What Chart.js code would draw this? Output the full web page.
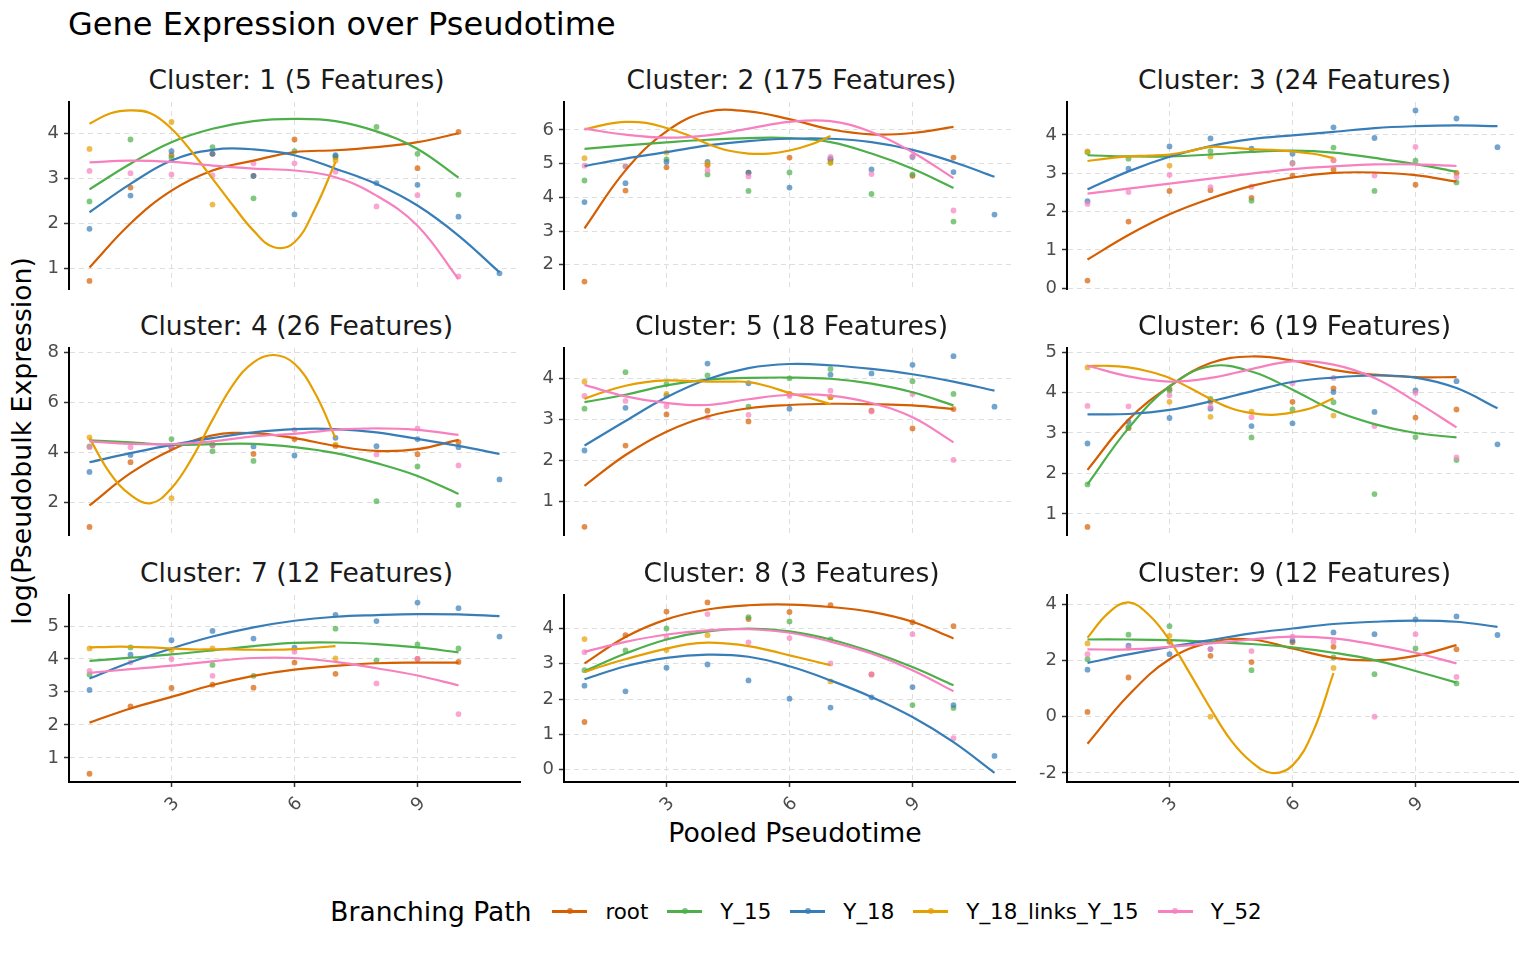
<!DOCTYPE html>
<html>
<head>
<meta charset="utf-8">
<title>Gene Expression over Pseudotime</title>
<script src="https://cdn.jsdelivr.net/npm/chart.js@4.4.1/dist/chart.umd.min.js"></script>
<style>
  body { margin: 0; background: #ffffff; font-family: "DejaVu Sans", sans-serif; }
  #page { position: relative; width: 1536px; height: 960px; overflow: hidden; background: #ffffff; }
  #page canvas { position: absolute; }
  .txt { position: absolute; line-height: 1; white-space: nowrap; }
  .mid { transform: translate(-50%, -50%); }
  #legend { position: absolute; left: 28px; width: 1536px; top: 911px; height: 30px; margin-top: -15px;
            display: flex; justify-content: center; align-items: center; }
  .ltitle { font-size: 26.5px; margin-right: 21px; color: #000; }
  .key { position: relative; width: 35px; height: 20px; margin-right: 18px; }
  .key .line { position: absolute; left: 0; right: 0; top: 9px; height: 2.6px; }
  .key .dot { position: absolute; left: 14.5px; top: 7.3px; width: 6px; height: 6px; border-radius: 50%; }
  .lab { font-size: 21.4px; margin-right: 19px; color: #000; }
  .lab:last-child { margin-right: 0; }
</style>
</head>
<body>
<div id="page">
  <div class="txt" style="left:68px; top:8px; font-size:32px; color:#000;">Gene Expression over Pseudotime</div>
  <div class="txt" style="left:22px; top:441px; font-size:26.7px; color:#000; transform: translate(-50%, -50%) rotate(-90deg);">log(Pseudobulk Expression)</div>
  <div class="txt mid" style="left:795px; top:833px; font-size:26.7px; color:#000;">Pooled Pseudotime</div>
  <div id="legend"><span class="ltitle">Branching Path</span></div>
</div>
<script>
// facets and groups
var clusterNames = ['Cluster: 1 (5 Features)', 'Cluster: 2 (175 Features)', 'Cluster: 3 (24 Features)',
                    'Cluster: 4 (26 Features)', 'Cluster: 5 (18 Features)', 'Cluster: 6 (19 Features)',
                    'Cluster: 7 (12 Features)', 'Cluster: 8 (3 Features)', 'Cluster: 9 (12 Features)'];
var paths = ['root', 'Y_15', 'Y_18', 'Y_18_links_Y_15', 'Y_52'];
var pathColors = ['#D55E00', '#4DAF4A', '#377EB8', '#E69F00', '#F781BF'];

// axes
var xTicks = [3, 6, 9];
var yTicks = [[1, 2, 3, 4], [2, 3, 4, 5, 6], [0, 1, 2, 3, 4],
              [2, 4, 6, 8], [1, 2, 3, 4], [1, 2, 3, 4, 5],
              [1, 2, 3, 4, 5], [0, 1, 2, 3, 4], [-2, 0, 2, 4]];
var yMin = [0.54, 1.28, -0.02, 0.69, 0.19, 0.48, 0.27, -0.35, -2.32];
var yMax = [4.705, 6.83, 4.86, 8.16, 4.75, 5.1, 5.94, 4.95, 4.32];

// pooled pseudotime positions
var pointX = [1, 2, 3, 4, 5, 6, 7, 8, 9, 10, 11];
var fitX = [1, 2, 3, 4, 5, 6, 7, 8, 9, 10, 11];
var fitXLinks = [1, 1.5, 2, 2.5, 3, 3.5, 4, 4.5, 5, 5.5, 6, 6.5, 7];

// pseudobulk points, rows in order of paths
var points1 = [[0.72, 2.80, 3.52, 3.55, 3.06, 3.87, 3.47, null, 3.23, 4.04],
               [2.49, 3.87, 3.46, 3.70, 2.56, 3.61, 3.50, 4.15, 3.55, 2.64],
               [1.88, 2.62, 3.61, 3.55, 3.06, 2.20, 3.52, 2.90, 2.86, 2.15, 0.89],
               [3.66, null, 4.26, 2.42, null, null, 3.40],
               [3.17, 3.12, 3.09, 3.07, 3.34, 3.34, 3.15, 2.38, 2.63, 0.82]];
var points2 = [[1.50, 4.20, 4.89, 4.95, 4.73, 5.18, 5.12, null, 4.64, 5.18],
               [4.50, 4.92, 5.13, 4.68, 4.19, 4.74, 5.05, 4.10, 4.68, 3.28],
               [3.86, 4.42, 5.05, 5.05, 4.73, 4.29, 5.15, 4.83, 5.20, 4.75, 3.49],
               [5.16, null, 5.33, 5.00, null, null, 5.02],
               [4.94, 4.92, null, 4.80, 4.62, null, 5.20, 4.69, 5.22, 3.61]];
var points3 = [[0.20, 1.74, 2.54, 2.56, 2.36, 2.94, 3.10, null, 2.70, 3.01],
               [3.55, 3.38, null, 3.58, 2.28, 3.27, 3.67, 2.54, 3.33, 2.76],
               [2.27, 3.12, 3.70, 3.91, 3.64, 3.51, 4.20, 3.92, 4.64, 4.43, 3.68],
               [3.57, null, 3.20, 3.44, null, null, 3.34],
               [2.20, 2.51, 2.96, 2.64, 2.65, 3.25, 3.34, 2.94, 3.69, 2.90]];
var points4 = [[1.01, 3.60, 4.20, 4.29, 3.93, 4.52, 4.25, null, 3.92, 4.40],
               [4.23, null, 4.52, 4.04, 3.65, null, null, 2.04, 3.43, 1.89],
               [3.21, 3.89, 4.20, 4.29, 4.23, 3.87, 4.57, 4.24, 4.52, 4.20, 2.91],
               [4.59, null, 2.16, null, null, null, 4.30],
               [4.20, 4.20, 4.20, 4.29, null, 4.89, null, 3.91, 4.95, 3.47]];
var points5 = [[0.39, 2.37, 3.13, 3.22, 2.96, 3.63, 3.55, 3.22, 2.79, 3.26],
               [3.27, 4.16, 3.87, 4.08, 3.32, 4.01, 4.24, null, 3.94, 3.63],
               [2.25, 3.29, 3.59, 4.37, 3.89, 3.27, 4.10, 4.13, 4.34, 4.55, 3.32],
               [3.93, null, 3.63, null, null, null, 3.55],
               [3.58, 3.46, 3.33, 3.06, 3.12, 3.58, 3.71, 3.20, 3.63, 2.02]];
var points6 = [[0.68, 3.12, 4.09, 3.78, null, 3.77, 4.10, null, 3.38, 3.58],
               [1.73, 3.15, 4.05, 3.84, 2.89, 3.58, 3.76, 1.49, 2.90, 2.33],
               [2.74, 3.28, 3.37, 3.60, 3.17, 3.24, 4.01, 3.52, 4.05, 4.28, 2.72],
               [4.62, null, 3.77, 3.40, 3.53, null, 3.43],
               [3.67, 3.66, 3.93, 3.65, 3.39, 4.23, 4.36, 3.17, 3.99, 2.40]];
var points7 = [[0.52, 2.56, 3.12, 3.22, 3.13, 3.89, 3.55, null, 4.00, 3.91],
               [3.53, 4.35, null, 3.82, 3.49, null, 4.92, 3.96, 4.44, 4.32],
               [3.06, 4.13, 4.57, 4.85, 4.62, 4.34, 5.34, 5.15, 5.71, 5.54, 4.68],
               [4.32, null, 4.27, 4.32, null, null, 4.02],
               [3.64, 3.90, 4.00, 3.49, null, 4.22, null, 3.26, 4.00, 2.33]];
var points8 = [[1.35, 3.81, 4.48, 4.74, 4.27, 4.47, 4.66, 2.70, 4.18, 4.07],
               [2.82, 3.38, 4.00, null, 4.32, 4.20, 3.69, null, 1.83, 1.75],
               [2.38, 2.22, 2.89, 2.98, 2.53, 2.01, 1.76, 2.05, 2.34, 1.83, 0.39],
               [3.70, null, 3.39, 3.81, null, null, 2.50],
               [3.33, null, 3.74, 4.41, 3.61, 3.73, 3.01, 2.70, 3.84, 0.89]];
var points9 = [[0.17, 1.39, 2.66, 2.16, 1.94, 2.64, 2.48, null, null, 2.39],
               [2.04, 2.91, 3.21, null, 1.65, null, 2.10, 1.51, 2.42, 1.18],
               [1.67, 2.52, 2.22, 2.40, null, 2.70, 2.99, 2.93, 3.45, 3.56, 2.90],
               [2.60, null, 2.87, 0.00, null, null, 1.73],
               [2.22, 2.45, null, 2.40, 2.33, 2.84, 2.66, 0.00, 2.93, 1.41]];

// smoothed trends (links path on the half-step grid)
var fits1 = [[1.02, 2.00, 2.73, 3.18, 3.40, 3.59, 3.63, 3.70, 3.81, 4.01],
             [2.76, 3.33, 3.81, 4.11, 4.28, 4.33, 4.28, 4.05, 3.66, 3.02],
             [2.25, 2.88, 3.40, 3.64, 3.65, 3.52, 3.22, 2.88, 2.40, 1.73, 0.91],
             [4.22, 4.45, 4.52, 4.45, 4.11, 3.59, 3.00, 2.40, 1.84, 1.47, 1.58, 2.33, 3.37],
             [3.36, 3.40, 3.37, 3.29, 3.22, 3.18, 3.03, 2.62, 1.95, 0.76]];
var fits2 = [[3.08, 4.80, 5.96, 6.54, 6.55, 6.32, 6.02, 5.87, 5.91, 6.09],
             [5.44, 5.54, 5.63, 5.71, 5.76, 5.76, 5.64, 5.30, 4.85, 4.28],
             [4.93, 5.15, 5.34, 5.54, 5.67, 5.74, 5.74, 5.64, 5.41, 5.05, 4.61],
             [6.01, 6.16, 6.24, 6.21, 6.06, 5.86, 5.59, 5.39, 5.30, 5.30, 5.39, 5.56, 5.82],
             [6.04, 5.86, 5.77, 5.84, 6.04, 6.24, 6.26, 5.94, 5.34, 4.57]];
var fits3 = [[0.75, 1.39, 1.93, 2.34, 2.67, 2.89, 3.01, 3.02, 2.95, 2.78],
             [3.47, 3.44, 3.44, 3.49, 3.56, 3.59, 3.54, 3.40, 3.24, 3.04],
             [2.58, 3.05, 3.43, 3.71, 3.89, 3.99, 4.08, 4.18, 4.23, 4.25, 4.23],
             [3.32, 3.39, 3.44, 3.46, 3.49, 3.58, 3.69, 3.67, 3.63, 3.61, 3.57, 3.51, 3.40],
             [2.47, 2.60, 2.73, 2.86, 2.99, 3.11, 3.18, 3.23, 3.23, 3.19]];
var fits4 = [[1.87, 3.16, 4.09, 4.67, 4.76, 4.56, 4.25, 4.05, 4.12, 4.49],
             [4.47, 4.39, 4.29, 4.32, 4.33, 4.20, 3.96, 3.56, 3.05, 2.33],
             [3.60, 3.96, 4.29, 4.56, 4.79, 4.92, 4.92, 4.79, 4.53, 4.25, 3.93],
             [4.56, 3.16, 2.29, 1.96, 2.56, 3.76, 5.29, 6.69, 7.59, 7.88, 7.53, 6.36, 4.56],
             [4.43, 4.33, 4.32, 4.43, 4.63, 4.73, 4.89, 4.95, 4.89, 4.69]];
var fits5 = [[1.39, 2.14, 2.71, 3.08, 3.28, 3.36, 3.39, 3.38, 3.35, 3.26],
             [3.43, 3.61, 3.84, 3.98, 4.02, 4.03, 4.00, 3.88, 3.67, 3.35],
             [2.37, 2.97, 3.55, 3.99, 4.26, 4.36, 4.33, 4.24, 4.11, 3.93, 3.71],
             [3.51, 3.69, 3.83, 3.92, 3.96, 3.95, 3.93, 3.93, 3.92, 3.81, 3.65, 3.53, 3.38],
             [3.85, 3.57, 3.41, 3.36, 3.50, 3.61, 3.59, 3.41, 3.06, 2.45]];
var fits6 = [[2.09, 3.33, 4.15, 4.73, 4.89, 4.79, 4.56, 4.44, 4.38, 4.38],
             [1.73, 3.12, 4.15, 4.65, 4.52, 4.07, 3.56, 3.22, 3.00, 2.89],
             [3.46, 3.47, 3.57, 3.78, 4.03, 4.26, 4.37, 4.42, 4.37, 4.11, 3.61],
             [4.65, 4.66, 4.62, 4.52, 4.36, 4.11, 3.84, 3.61, 3.49, 3.45, 3.51, 3.63, 3.86],
             [4.66, 4.40, 4.27, 4.36, 4.58, 4.77, 4.69, 4.36, 3.78, 3.14]];
var fits7 = [[2.07, 2.50, 2.85, 3.21, 3.49, 3.68, 3.79, 3.87, 3.89, 3.89],
             [3.94, 4.04, 4.14, 4.26, 4.39, 4.49, 4.50, 4.45, 4.35, 4.20],
             [3.41, 3.90, 4.32, 4.68, 4.96, 5.16, 5.28, 5.33, 5.36, 5.35, 5.30],
             [4.35, 4.37, 4.37, 4.35, 4.32, 4.29, 4.29, 4.29, 4.28, 4.28, 4.30, 4.34, 4.39],
             [3.58, 3.69, 3.80, 3.93, 4.03, 4.03, 3.91, 3.72, 3.50, 3.20]];
var fits8 = [[3.01, 3.76, 4.26, 4.54, 4.66, 4.68, 4.61, 4.47, 4.19, 3.72],
             [2.79, 3.29, 3.69, 3.92, 4.00, 3.92, 3.69, 3.34, 2.91, 2.39],
             [2.56, 2.93, 3.17, 3.26, 3.20, 2.93, 2.53, 2.06, 1.49, 0.78, -0.09],
             [2.77, 2.96, 3.13, 3.29, 3.43, 3.55, 3.60, 3.57, 3.50, 3.38, 3.24, 3.10, 2.96],
             [3.34, 3.62, 3.83, 3.95, 3.98, 3.88, 3.63, 3.29, 2.82, 2.22]];
var fits9 = [[-0.96, 0.76, 2.04, 2.64, 2.74, 2.42, 2.09, 2.00, 2.16, 2.54],
             [2.74, 2.74, 2.72, 2.66, 2.58, 2.46, 2.27, 2.01, 1.62, 1.21],
             [1.91, 2.21, 2.48, 2.72, 2.96, 3.13, 3.29, 3.37, 3.41, 3.37, 3.19],
             [2.80, 3.67, 4.06, 3.61, 2.72, 1.53, 0.29, -0.84, -1.61, -2.00, -1.73, -0.54, 1.55],
             [2.39, 2.39, 2.48, 2.60, 2.74, 2.84, 2.78, 2.56, 2.27, 1.89]];

var allPoints = [points1, points2, points3, points4, points5, points6, points7, points8, points9];
var allFits = [fits1, fits2, fits3, fits4, fits5, fits6, fits7, fits8, fits9];

// panel layout (pixels)
var plotLeft = [69, 564, 1067];
var plotTop = [102, 348, 595];
var plotW = 455;
var plotH = 187;
var axisW = 60;
var pad = 16;
var xAxisH = 45;

var page = document.getElementById('page');
var tickFont = { family: 'DejaVu Sans', size: 18 };
var gridColor = '#dedede';

function fade(hex, a) {
  var r = parseInt(hex.slice(1, 3), 16);
  var g = parseInt(hex.slice(3, 5), 16);
  var b = parseInt(hex.slice(5, 7), 16);
  return 'rgba(' + r + ',' + g + ',' + b + ',' + a + ')';
}

function makeDatasets(pts, fits) {
  var sets = [];
  for (var p = 0; p < paths.length; p++) {
    var xs = p === 3 ? fitXLinks : fitX;
    var curve = [];
    for (var i = 0; i < fits[p].length; i++) {
      curve.push({ x: xs[i], y: fits[p][i] });
    }
    sets.push({
      type: 'line', label: paths[p], data: curve, showLine: true,
      borderColor: pathColors[p], borderWidth: 2.2, pointRadius: 0,
      tension: 0.4, fill: false, order: 10 - p
    });
    var dots = [];
    for (var j = 0; j < pts[p].length; j++) {
      if (pts[p][j] !== null) dots.push({ x: pointX[j], y: pts[p][j] });
    }
    sets.push({
      type: 'scatter', label: paths[p], data: dots,
      backgroundColor: fade(pathColors[p], 0.7), borderWidth: 0,
      pointRadius: 2.9, order: 20 - p
    });
  }
  return sets;
}

function drawPanel(i) {
  var col = i % 3;
  var row = Math.floor(i / 3);
  var bottomRow = row === 2;
  var w = plotW + axisW;
  var h = plotH + pad + (bottomRow ? xAxisH : pad);

  var strip = document.createElement('div');
  strip.className = 'txt mid';
  strip.style.left = (plotLeft[col] + plotW / 2) + 'px';
  strip.style.top = (plotTop[row] - 22) + 'px';
  strip.style.fontSize = '26.5px';
  strip.style.color = '#1a1a1a';
  strip.textContent = clusterNames[i];
  page.appendChild(strip);

  var canvas = document.createElement('canvas');
  canvas.width = w;
  canvas.height = h;
  canvas.style.left = (plotLeft[col] - axisW) + 'px';
  canvas.style.top = (plotTop[row] - pad) + 'px';
  canvas.style.width = w + 'px';
  canvas.style.height = h + 'px';
  page.appendChild(canvas);

  var ticksY = yTicks[i];

  new Chart(canvas.getContext('2d'), {
    type: 'scatter',
    data: { datasets: makeDatasets(allPoints[i], allFits[i]) },
    options: {
      responsive: false,
      animation: false,
      devicePixelRatio: 1,
      layout: { padding: { left: 0, right: 0, top: pad, bottom: bottomRow ? 0 : pad } },
      plugins: { legend: { display: false }, tooltip: { enabled: false } },
      scales: {
        x: {
          type: 'linear', min: 0.5, max: 11.5, bounds: 'data',
          afterBuildTicks: function (s) { s.ticks = xTicks.map(function (v) { return { value: v }; }); },
          afterFit: function (s) { s.height = bottomRow ? xAxisH : 0; s.paddingLeft = 0; s.paddingRight = 0; },
          grid: { color: gridColor, lineWidth: 1, drawTicks: bottomRow, tickLength: 5,
                  tickColor: '#333333', tickWidth: 1.5, tickBorderDash: [] },
          border: { display: bottomRow, color: '#000000', width: 2, dash: [5, 4] },
          ticks: { display: bottomRow, minRotation: 45, maxRotation: 45, padding: 6, labelOffset: 5,
                   color: '#4d4d4d', font: tickFont,
                   callback: function (v) { return String(v); } }
        },
        y: {
          type: 'linear', min: yMin[i], max: yMax[i], bounds: 'data',
          afterBuildTicks: function (s) { s.ticks = ticksY.map(function (v) { return { value: v }; }); },
          afterFit: function (s) { s.width = axisW; s.paddingTop = 0; s.paddingBottom = 0; },
          grid: { color: gridColor, lineWidth: 1, drawTicks: true, tickLength: 5,
                  tickColor: '#333333', tickWidth: 1.5, tickBorderDash: [] },
          border: { display: true, color: '#000000', width: 2, dash: [5, 4] },
          ticks: { padding: 5, color: '#4d4d4d', font: tickFont,
                   callback: function (v) { return String(v); } }
        }
      }
    }
  });
}

for (var k = 0; k < clusterNames.length; k++) drawPanel(k);

// legend
var legend = document.getElementById('legend');
for (var p = 0; p < paths.length; p++) {
  var key = document.createElement('span');
  key.className = 'key';
  var ln = document.createElement('span');
  ln.className = 'line';
  ln.style.background = pathColors[p];
  var dot = document.createElement('span');
  dot.className = 'dot';
  dot.style.background = fade(pathColors[p], 0.75);
  key.appendChild(ln);
  key.appendChild(dot);
  legend.appendChild(key);
  var lab = document.createElement('span');
  lab.className = 'lab';
  lab.textContent = paths[p];
  legend.appendChild(lab);
}
</script>
</body>
</html>
